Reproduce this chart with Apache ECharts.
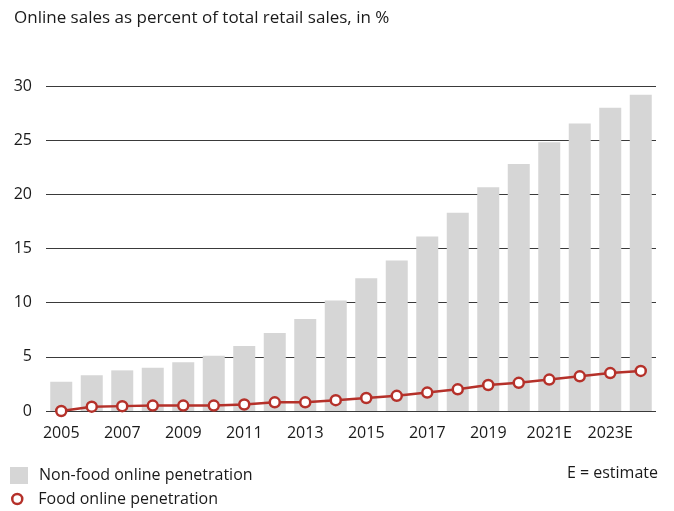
<!DOCTYPE html>
<html>
<head>
<meta charset="utf-8">
<style>
  html, body { margin: 0; padding: 0; background: #fff; }
  #chart { width: 674px; height: 511px; }
</style>
<script src="https://cdn.jsdelivr.net/npm/echarts@6/dist/echarts.min.js"></script>
</head>
<body>
<div id="chart"></div>
<script>
// Years shown on the category axis (E = estimate)
const years = ['2005','2006','2007','2008','2009','2010','2011','2012','2013','2014',
               '2015','2016','2017','2018','2019','2020','2021E','2022E','2023E','2024E'];
// Non-food online penetration, % of retail sales
const nonFood = [2.7, 3.3, 3.75, 4.0, 4.5, 5.1, 6.0, 7.2, 8.5, 10.2,
                 12.25, 13.9, 16.1, 18.3, 20.65, 22.8, 24.8, 26.55, 28.0, 29.2];
// Food online penetration, % of retail sales
const food = [0.0, 0.4, 0.45, 0.5, 0.5, 0.5, 0.6, 0.8, 0.8, 1.0,
              1.2, 1.4, 1.7, 2.0, 2.4, 2.6, 2.9, 3.2, 3.5, 3.7];

const FONT = '"Open Sans", "Noto Sans", sans-serif';
const TEXT = '#1a1a1a';
const RED = '#b5312a';
const GREY = '#d6d6d6';

const chart = echarts.init(document.getElementById('chart'), null, { renderer: 'canvas' });
chart.setOption({
  animation: false,
  textStyle: { fontFamily: FONT, color: TEXT },
  title: {
    text: 'Online sales as percent of total retail sales, in %',
    left: 9, top: 5,
    textStyle: { fontFamily: FONT, fontSize: 17, fontWeight: 'normal', color: TEXT }
  },
  grid: { left: 46, right: 18, top: 86, bottom: 100, containLabel: false },
  legend: [
    {
      data: [{ name: 'Non-food online penetration', icon: 'rect' }],
      left: 10, top: 467, orient: 'vertical', padding: 0,
      itemWidth: 18, itemHeight: 17,
      textStyle: { fontFamily: FONT, fontSize: 16, color: TEXT, padding: [0, 0, 0, 6] },
      selectedMode: false
    },
    {
      data: [{
        name: 'Food online penetration', icon: 'circle',
        itemStyle: { color: '#fff', borderColor: RED, borderWidth: 2.5 }
      }],
      left: 11, top: 491, orient: 'vertical', padding: 0,
      itemWidth: 10, itemHeight: 10,
      textStyle: { fontFamily: FONT, fontSize: 16, color: TEXT, padding: [0, 0, 0, 11] },
      selectedMode: false
    }
  ],
  graphic: [{
    type: 'text', right: 16, top: 465,
    style: { text: 'E = estimate', font: '16px ' + FONT, fill: TEXT }
  }],
  xAxis: {
    type: 'category',
    data: years,
    axisTick: { show: false },
    axisLine: { show: false },
    axisLabel: {
      interval: 1, margin: 14, fontSize: 16, color: TEXT, fontFamily: FONT
    }
  },
  yAxis: {
    type: 'value',
    min: 0, max: 30, interval: 5,
    axisLine: { show: false },
    axisTick: { show: false },
    splitLine: { lineStyle: { color: '#3a3a3a', width: 1 } },
    axisLabel: { margin: 14, fontSize: 16, color: TEXT, fontFamily: FONT }
  },
  series: [
    {
      name: 'Non-food online penetration',
      type: 'bar',
      data: nonFood,
      barWidth: 22,
      itemStyle: { color: GREY },
      z: 1
    },
    {
      name: 'Food online penetration',
      type: 'line',
      data: food,
      symbol: 'circle',
      symbolSize: 10,
      lineStyle: { color: RED, width: 2.5 },
      itemStyle: { color: '#fff', borderColor: RED, borderWidth: 2.5 },
      z: 3
    }
  ]
});
</script>
</body>
</html>
